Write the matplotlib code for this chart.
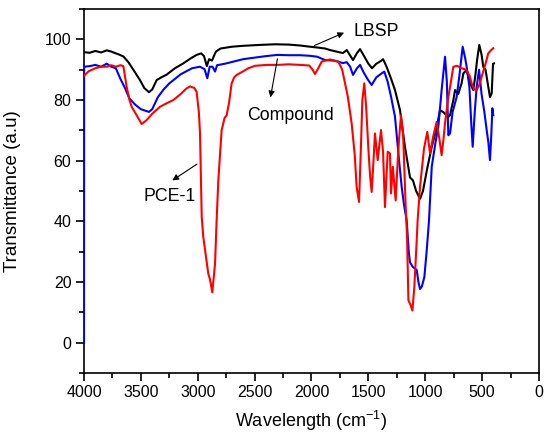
import matplotlib
matplotlib.use("Agg")
from matplotlib import pyplot as plt
from matplotlib.ticker import MultipleLocator

# FTIR spectra: LBSP, Compound, PCE-1

# LBSP (black)
w_lbsp = [4000, 3950, 3900, 3850, 3800, 3760, 3727, 3690, 3654, 3610, 3566, 3508, 3470, 3429,
          3400, 3361, 3320, 3273, 3200, 3127, 3060, 3010, 2970, 2945, 2920, 2900, 2875, 2855,
          2840, 2800, 2700, 2600, 2450, 2320, 2200, 2100, 2013, 1940, 1880, 1837, 1780, 1723,
          1690, 1665, 1635, 1600, 1573, 1530, 1500, 1468, 1430, 1389, 1371, 1340, 1300, 1266,
          1222, 1180, 1134, 1108, 1080, 1060, 1045, 1020, 985, 943, 905, 870, 840, 800, 782,
          753, 738, 710, 680, 665, 636, 610, 578, 560, 545, 525, 505, 490, 470, 446, 431, 416,
          404, 396]
t_lbsp = [95.8, 95.6, 96.2, 95.7, 96.4, 96.0, 95.5, 95.0, 94.4, 92.5, 90.0, 86.6, 84.0, 82.6,
          83.5, 86.6, 87.5, 88.4, 90.5, 92.1, 93.8, 94.9, 95.4, 94.5, 91.2, 93.5, 93.0, 94.8,
          96.0, 97.0, 97.6, 97.9, 98.2, 98.4, 98.3, 98.0, 97.6, 97.3, 97.0, 96.5, 96.0, 95.5,
          96.5, 95.0, 93.2, 95.5, 96.8, 94.0, 92.0, 90.5, 92.0, 92.9, 93.5, 91.0, 87.0, 83.3,
          76.7, 65.0, 54.5, 53.5, 50.0, 48.5, 47.5, 50.0, 57.0, 64.6, 70.0, 76.7, 76.0, 74.4, 75.0,
          80.0, 83.3, 82.0, 85.6, 88.8, 90.0, 86.0, 83.3, 88.0, 93.0, 98.2, 95.0, 91.0, 90.0,
          84.4, 81.0, 82.2, 92.0, 92.1]

# Compound (blue)
w_comp = [4000, 3999, 3950, 3900, 3850, 3800, 3760, 3720, 3680, 3640, 3600, 3550, 3500, 3429,
          3400, 3350, 3300, 3250, 3200, 3150, 3100, 3050, 2980, 2940, 2916, 2895, 2870, 2848,
          2830, 2760, 2600, 2400, 2300, 2200, 2100, 2013, 1950, 1881, 1800, 1723, 1690, 1660,
          1635, 1600, 1573, 1540, 1500, 1471, 1430, 1383, 1360, 1330, 1300, 1266, 1230, 1207,
          1185, 1163, 1145, 1134, 1110, 1090, 1075, 1060, 1046, 1030, 1008, 987, 967, 943, 910,
          885, 856, 826, 810, 797, 782, 760, 724, 700, 671, 650, 636, 612, 595, 583, 565, 548,
          527, 505, 480, 460, 445, 431, 420, 410, 402]
t_comp = [0.0, 91.0, 91.2, 91.6, 91.0, 92.0, 91.0, 90.5, 87.0, 84.0, 80.5, 78.5, 77.0, 76.1,
          77.0, 81.0, 83.5, 85.5, 87.0, 88.5, 89.5, 90.5, 91.0, 90.2, 87.2, 91.0, 91.0, 89.4,
          91.5, 92.0, 93.5, 94.5, 94.9, 94.8, 94.8, 94.6, 94.3, 93.2, 93.0, 92.2, 92.5, 91.0,
          88.3, 90.5, 91.6, 89.0, 86.5, 85.0, 87.5, 88.8, 89.4, 86.0, 81.0, 74.5, 60.0, 51.3,
          45.0, 40.3, 30.0, 26.5, 25.0, 24.4, 24.0, 20.0, 17.7, 18.5, 21.6, 30.4, 40.3, 58.0, 66.0,
          71.2, 83.3, 94.3, 86.0, 68.4, 69.0, 76.0, 81.0, 88.0, 97.6, 94.0, 91.0, 84.4, 72.0, 64.6,
          76.0, 84.4, 90.0, 82.0, 76.0, 70.1, 66.0, 60.2, 68.0, 77.3, 75.0]

# PCE-1 (red)
w_pce = [4000, 3960, 3900, 3850, 3800, 3760, 3720, 3680, 3654, 3625, 3600, 3581, 3537, 3493,
         3449, 3400, 3332, 3270, 3215, 3150, 3100, 3068, 3030, 3010, 2990, 2980, 2965, 2951,
         2930, 2907, 2893, 2872, 2848, 2834, 2819, 2790, 2765, 2746, 2725, 2702, 2680, 2658,
         2600, 2555, 2497, 2394, 2300, 2200, 2100, 2020, 1990, 1969, 1940, 1910, 1837, 1764,
         1730, 1705, 1680, 1647, 1620, 1603, 1582, 1565, 1553, 1536, 1520, 1500, 1485, 1471,
         1455, 1442, 1418, 1389, 1371, 1354, 1330, 1310, 1301, 1285, 1260, 1245, 1231, 1213,
         1195, 1172, 1160, 1148, 1130, 1113, 1096, 1080, 1067, 1046, 1011, 982, 958, 930, 900,
         875, 856, 840, 826, 797, 770, 753, 720, 680, 640, 610, 592, 570, 548, 525, 504, 470,
         446, 420, 402]
t_pce = [88.0, 89.5, 90.5, 91.0, 91.0, 91.5, 91.0, 91.5, 91.2, 84.4, 80.0, 77.8, 75.0, 72.1,
         73.4, 75.5, 77.8, 79.0, 80.0, 82.0, 83.8, 84.5, 84.0, 82.7, 76.0, 69.0, 41.4, 34.8,
         29.0, 22.7, 21.0, 16.6, 26.0, 40.3, 53.5, 70.0, 74.0, 75.0, 79.0, 85.5, 87.5, 88.3,
         89.5, 90.5, 91.3, 91.6, 91.6, 91.8, 91.6, 91.4, 90.0, 88.6, 90.5, 92.7, 93.4, 92.7,
         90.0, 85.5, 81.0, 72.3, 62.0, 51.3, 46.4, 65.0, 80.0, 85.5, 78.0, 64.0, 55.0, 49.7,
         60.0, 69.0, 60.2, 70.1, 63.0, 44.7, 63.0, 62.4, 49.2, 58.0, 46.9, 58.0, 66.8, 75.0,
         69.0, 45.0, 35.0, 14.0, 12.5, 10.6, 18.3, 30.0, 40.3, 51.3, 64.0, 69.5, 62.4, 68.0, 72.8,
         67.0, 61.8, 67.0, 72.4, 81.0, 87.0, 91.0, 91.3, 90.5, 90.0, 88.0, 85.5, 83.5, 83.3, 85.0,
         87.7, 92.0, 95.4, 96.5, 97.1]

plt.rcParams['font.family'] = ['Liberation Sans', 'DejaVu Sans']
plt.rcParams['mathtext.default'] = 'regular'

fig = plt.figure(figsize=(5.5, 4.34), dpi=100, facecolor='w')
ax = fig.add_axes([0.1527, 0.1406, 0.8273, 0.8384])

ax.plot(w_lbsp, t_lbsp, color='black', lw=1.5, zorder=3)
ax.plot(w_comp, t_comp, color='blue', lw=1.5, zorder=3)
ax.plot(w_pce, t_pce, color='red', lw=1.5, zorder=3)

ax.set_xlim(4000, 0)
ax.set_ylim(-10, 110)
ax.xaxis.set_major_locator(MultipleLocator(500))
ax.xaxis.set_minor_locator(MultipleLocator(250))
ax.yaxis.set_minor_locator(MultipleLocator(10))
ax.set_yticks(range(0, 101, 20))
ax.tick_params(which='major', direction='out', length=6, width=1.2, labelsize=11.5, pad=3)
ax.tick_params(which='minor', direction='out', length=3.5, width=1.2)
ax.tick_params(top=False, right=False, which='both')
for s in ax.spines.values():
    s.set_linewidth(1.2)

ax.set_xlabel("Wavelength (cm$^{-1}$)", fontsize=13)
ax.set_ylabel("Transmittance (a.u)", fontsize=13.5)
ax.xaxis.set_label_coords(0.5, -0.098)
ax.yaxis.set_label_coords(-0.138, 0.5)

# 标注
arrow = dict(arrowstyle='-|>', color='black', lw=0.8, mutation_scale=9)
ax.annotate('', xy=(1691, 102.6), xytext=(1998, 97.6), arrowprops=arrow)
ax.text(1635, 102.6, "LBSP", fontsize=12.8, va='center', ha='left')
ax.annotate('', xy=(2365, 80), xytext=(2295, 94.5), arrowprops=arrow)
ax.text(2567, 75, "Compound", fontsize=12.8, va='center', ha='left')
ax.annotate('', xy=(3244, 53), xytext=(2986, 59.4), arrowprops=arrow)
ax.text(3473, 48.3, "PCE-1", fontsize=12.8, va='center', ha='left')

plt.savefig('out.png', dpi=100)
